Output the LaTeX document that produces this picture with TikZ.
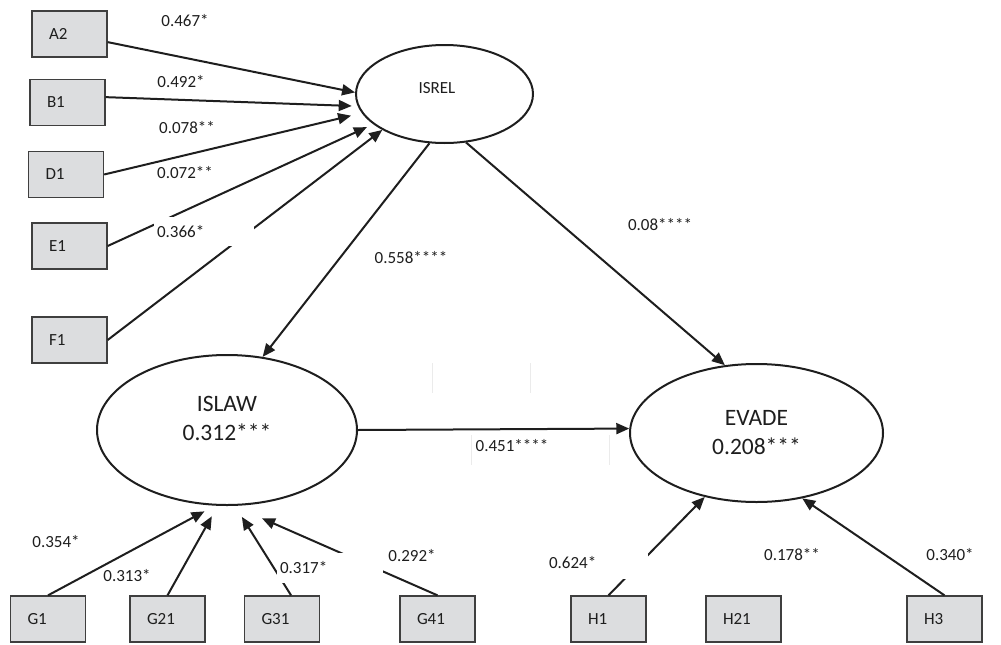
\documentclass[tikz,border=0pt]{standalone}
\usepackage{fontspec}
\setmainfont{Carlito}
\usepackage{tikz}
\usetikzlibrary{arrows.meta,shapes.geometric}
\definecolor{boxgray}{HTML}{DCDDDF}
\definecolor{edgegray}{HTML}{3F3F3F}
\definecolor{ink}{HTML}{1E1E1E}
\definecolor{faintgray}{HTML}{EBEBEB}

\begin{document}
\begin{tikzpicture}[
  x=1pt,y=-1pt,
  font=\fontsize{17}{20}\selectfont,
  ind/.style={draw=edgegray,line width=1.3pt,fill=boxgray,text=ink,text width=41pt,inner xsep=17pt,inner ysep=0pt,minimum height=46pt,align=left},
  lat/.style={ellipse,draw=ink,line width=2pt,inner sep=0pt,align=center,text=ink},
  big/.style={font=\fontsize{23.5}{29}\selectfont},
  coef/.style={text=ink,inner sep=0pt},
  mask/.style={fill=white,inner xsep=3pt,inner ysep=0pt,align=left},
  ar/.style={-{Triangle[length=13pt,width=11pt]},line width=2pt,draw=ink},
  faint/.style={draw=faintgray,line width=1pt}]
  \useasboundingbox (0,0) rectangle (1001,645);
  % indicators
  \node[ind] (A2) at (69.5,34) {A2};
  \node[ind] (B1) at (67.5,102.5) {B1};
  \node[ind] (D1) at (66,174.5) {D1};
  \node[ind] (E1) at (69.5,246) {E1};
  \node[ind] (F1) at (69.5,340) {F1};
  \node[ind] (G1) at (48,619) {G1};
  \node[ind] (G21) at (167.5,619) {G21};
  \node[ind] (G31) at (282,619) {G31};
  \node[ind] (G41) at (437.5,619) {G41};
  \node[ind] (H1) at (608.5,619) {H1};
  \node[ind] (H21) at (743.5,619) {H21};
  \node[ind] (H3) at (944.5,619) {H3};
  % latent variables
  \node[lat,minimum width=177pt,minimum height=98pt] (isrel) at (444.5,94) {};
  \node[coef] (isrel-t) at (437,88) {ISREL};
  \node[lat,minimum width=260pt,minimum height=150pt] (islaw) at (227,430) {};
  \node[coef,big,align=center] (islaw-t) at (227,418) {ISLAW\\0.312***};
  \node[lat,big,minimum width=253pt,minimum height=138pt] (evade) at (756.5,433) {EVADE\\0.208***};
  % paths
  \draw[ar] (A2.-12) -- (isrel.179);
  \draw[ar,shorten >=6pt] (B1.8) -- (isrel.188);
  \draw[ar,shorten >=11pt] (D1.east) -- (isrel.193);
  \draw[ar,shorten >=7pt] (E1.east) -- (isrel.203);
  \draw[ar] (F1.east) -- (isrel.210);
  \draw[ar] (isrel.253) -- (islaw.64);
  \draw[ar] (isrel.294) -- (evade.115);
  \draw[ar] (islaw.east) -- (evade.178);
  \draw[ar,shorten >=12pt] (G1.north) -- (islaw.261);
  \draw[ar,shorten >=12pt] (G21.north) -- (islaw.263);
  \draw[ar,shorten >=13pt] (G31.69) -- (islaw.276);
  \draw[ar,shorten >=31pt] (G41.north) -- (islaw.275);
  \draw[ar] (H1.north) -- (evade.231);
  \draw[ar] (H3.north) -- (evade.305);
  % leftover text box edges
  \draw[faint] (432,363) -- (432,393);
  \draw[faint] (530,363) -- (530,393);
  \draw[faint] (471,435) -- (471,465);
  \draw[faint] (609,435) -- (609,465);
  % coefficients
  \node[coef] (w-a2) at (185,21) {0.467*};
  \node[coef] (w-b1) at (181,82) {0.492*};
  \node[coef] (w-d1) at (187,128) {0.078**};
  \node[coef] (w-e1) at (185,173) {0.072**};
  \node[coef,mask,text width=94pt,minimum height=29pt] (w-f1) at (204,231.5) {0.366*};
  \node[coef] (w-law) at (411,258) {0.558****};
  \node[coef] (w-evade) at (660,225) {0.08****};
  \node[coef] (w-mid) at (512,446) {0.451****};
  \node[coef] (w-g1) at (56,542) {0.354*};
  \node[coef] (w-g21) at (127,576) {0.313*};
  \node[coef,mask,text width=100pt,minimum height=30pt] (w-g31) at (330,568) {0.317*};
  \node[coef] (w-g41) at (412,556) {0.292*};
  \node[coef,mask,text width=96pt,minimum height=32pt] (w-h1) at (597,563) {0.624*};
  \node[coef] (w-h21) at (792,555) {0.178**};
  \node[coef] (w-h3) at (950,555) {0.340*};
\end{tikzpicture}
\end{document}
